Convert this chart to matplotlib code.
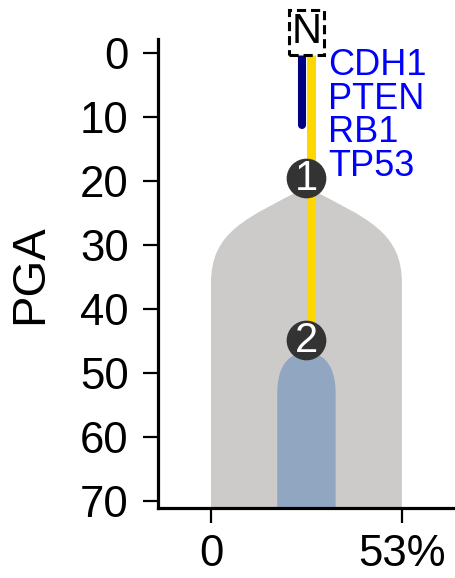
import matplotlib.pyplot as plt
from matplotlib.path import Path
from matplotlib.patches import PathPatch

plt.rcParams['font.family'] = ['Liberation Sans', 'DejaVu Sans']

# clone data (PGA where the clone appears / reaches full width, cell fraction %)
clone_labels = ['1', '2']
clone_node_pga = [19.6, 44.8]
clone_top_pga = [21.0, 46.8]
clone_full_pga = [36.0, 53.2]
clone_frac = [53.0, 16.2]
clone_colors = ['#cccbca', '#91a7c1']
# bezier shape of the shoulder: (x of ctrl1 / width, y of ctrl1 / span, y of ctrl2 / span)
clone_shoulder = [(0.64, 0.327, 0.467), (0.45, 0.0, 0.2)]

# tree branches from the root N
root_pga = -3.2
branch_end = [11.3, 44.8]
branch_colors = ['#000080', '#ffd700']
branch_widths = [5.8, 6.5]
branch_caps = ['round', 'butt']
branch_shift = [-1.3, 1.3]

genes = ['CDH1', 'PTEN', 'RB1', 'TP53']
gene_pga = [3.5, 8.75, 14.0, 19.25]

y_ticks = [0, 10, 20, 30, 40, 50, 60, 70]
max_frac = 53.0
y_max = 71.1

center = max_frac / 2.0

fig = plt.figure(figsize=(4.55, 5.78), dpi=100)
ax = fig.add_axes([0.347, 0.121, 0.653, 0.811])

for i in range(len(clone_labels)):
    w = clone_frac[i] / 2.0
    p0 = clone_top_pga[i]
    p1 = clone_full_pga[i]
    span = p1 - p0
    a, b, c = clone_shoulder[i]
    verts = [(center - w, y_max + 5), (center - w, p1),
             (center - w, p0 + c * span), (center - a * w, p0 + b * span), (center, p0),
             (center + a * w, p0 + b * span), (center + w, p0 + c * span), (center + w, p1),
             (center + w, y_max + 5), (center - w, y_max + 5)]
    codes = [Path.MOVETO, Path.LINETO,
             Path.CURVE4, Path.CURVE4, Path.CURVE4,
             Path.CURVE4, Path.CURVE4, Path.CURVE4,
             Path.LINETO, Path.CLOSEPOLY]
    ax.add_patch(PathPatch(Path(verts, codes), facecolor=clone_colors[i],
                           edgecolor='none', zorder=1 + i))

for i in range(len(branch_end)):
    ax.plot([center + branch_shift[i]] * 2, [0, branch_end[i]], color=branch_colors[i],
            lw=branch_widths[i], solid_capstyle=branch_caps[i], zorder=4)

ax.scatter([center] * len(clone_node_pga), clone_node_pga, s=760, color='#333333',
           zorder=5, clip_on=False)
for lab, p in zip(clone_labels, clone_node_pga):
    ax.text(center, p + 0.2, lab, color='white', fontsize=30, ha='center', va='center',
            zorder=6)

ax.text(center, root_pga, 'N', fontsize=30, ha='center', va='center', zorder=6,
        bbox=dict(boxstyle='square,pad=0.06', fc='white', ec='black', lw=2.2,
                  ls=(0, (3, 1.6))))

for g, p in zip(genes, gene_pga):
    ax.text(32.5, p, g, color='#0000ff', fontsize=26, ha='left', va='baseline',
            zorder=6)

ax.set_xlim(-0.278 * max_frac, 1.278 * max_frac)
ax.set_ylim(y_max, -2.07)
ax.set_yticks(y_ticks)
ax.set_xticks([0, max_frac])
ax.set_xticklabels(['0', '53%'])
ax.tick_params(axis='both', labelsize=31.5, length=11, width=1.6)
ax.tick_params(axis='y', pad=10)
ax.tick_params(axis='x', pad=8)
ax.set_ylabel('PGA', fontsize=34, labelpad=20)
ax.spines['top'].set_visible(False)
ax.spines['right'].set_visible(False)
ax.spines['left'].set_linewidth(2.3)
ax.spines['bottom'].set_linewidth(2.3)

plt.savefig('out.png', dpi=100)
